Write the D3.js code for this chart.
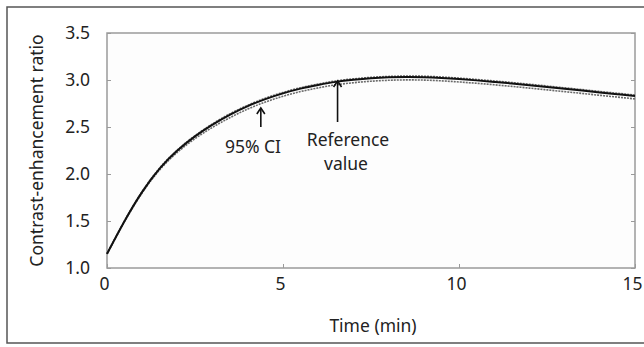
<!DOCTYPE html>
<html>
<head>
<meta charset="utf-8">
<script src="https://cdn.jsdelivr.net/npm/d3@7/dist/d3.min.js"></script>
<style>
  html, body { margin: 0; padding: 0; background: #fff; }
  svg { display: block; }
  text { font-family: "Noto Sans", "Open Sans", sans-serif; fill: #222; }
</style>
</head>
<body>
<svg id="chart" width="644" height="347"></svg>
<script>
// Time points (min)
const times = [0, 0.5, 1, 1.5, 2, 2.5, 3, 3.5, 4, 4.5, 5, 5.5, 6, 6.5, 7, 7.5, 8, 8.5, 9, 9.5, 10, 10.5, 11, 11.5, 12, 12.5, 13, 13.5, 14, 14.5, 15];
// Reference contrast-enhancement ratio curve
const referenceValues = [1.15, 1.50, 1.81, 2.06, 2.25, 2.40, 2.525, 2.632, 2.722, 2.797, 2.858, 2.908, 2.947, 2.98, 3.002, 3.018, 3.028, 3.032, 3.03, 3.022, 3.01, 2.996, 2.98, 2.963, 2.945, 2.926, 2.907, 2.888, 2.868, 2.849, 2.83];
// 95% confidence interval bounds
const ciUpper = [1.15, 1.503, 1.815, 2.066, 2.257, 2.408, 2.534, 2.642, 2.732, 2.807, 2.868, 2.918, 2.957, 2.99, 3.012, 3.028, 3.038, 3.042, 3.04, 3.032, 3.02, 3.006, 2.99, 2.973, 2.955, 2.936, 2.917, 2.898, 2.878, 2.859, 2.84];
const ciLower = [1.15, 1.496, 1.80, 2.046, 2.231, 2.376, 2.497, 2.601, 2.691, 2.766, 2.827, 2.877, 2.916, 2.949, 2.971, 2.987, 2.997, 3.001, 2.999, 2.991, 2.979, 2.965, 2.949, 2.932, 2.914, 2.895, 2.876, 2.857, 2.837, 2.818, 2.799];

const xTicks = [0, 5, 10, 15];
const yTicks = [1.0, 1.5, 2.0, 2.5, 3.0, 3.5];

const svg = d3.select("#chart");
const plotLeft = 107, plotRight = 635, plotTop = 33, plotBottom = 268;
const fontSize = 17.5;

const x = d3.scaleLinear().domain([0, 15]).range([plotLeft, plotRight]);
const y = d3.scaleLinear().domain([1.0, 3.5]).range([plotBottom, plotTop]);

// Outer frame
svg.append("rect")
  .attr("x", 7).attr("y", 7).attr("width", 660).attr("height", 336)
  .attr("fill", "none").attr("stroke", "#555").attr("stroke-width", 1.5);

// Plot area frame
svg.append("rect")
  .attr("x", plotLeft).attr("y", plotTop).attr("width", plotRight - plotLeft).attr("height", plotBottom - plotTop)
  .attr("fill", "#fdfdfd").attr("stroke", "#9a9a9a").attr("stroke-width", 1.5);

// Ticks pointing inward on left, right and bottom
const tickColor = "#9a9a9a";
const yAxisL = svg.append("g").attr("transform", `translate(${plotLeft},0)`)
  .call(d3.axisLeft(y).tickValues(yTicks).tickSizeInner(-4).tickSizeOuter(0).tickPadding(17).tickFormat(d3.format(".1f")));
const yAxisR = svg.append("g").attr("transform", `translate(${plotRight},0)`)
  .call(d3.axisRight(y).tickValues(yTicks).tickSizeInner(-4).tickSizeOuter(0).tickFormat(""));
const xAxis = svg.append("g").attr("transform", `translate(0,${plotBottom})`)
  .call(d3.axisBottom(x).tickValues(xTicks).tickSizeInner(-4).tickSizeOuter(0).tickPadding(10).tickFormat(d3.format("d")));

[yAxisL, yAxisR, xAxis].forEach(g => {
  g.select(".domain").remove();
  g.selectAll(".tick line").attr("stroke", tickColor).attr("stroke-width", 1);
  g.selectAll(".tick text").attr("font-size", fontSize).attr("fill", "#222")
    .style("font-family", "'Noto Sans', sans-serif");
});
xAxis.selectAll(".tick text").attr("dx", -3);

// Axis titles
svg.append("text")
  .attr("x", 373).attr("y", 332)
  .attr("text-anchor", "middle").attr("font-size", fontSize)
  .text("Time (min)");
svg.append("text")
  .attr("transform", `translate(43,${(plotTop + plotBottom) / 2}) rotate(-90)`)
  .attr("text-anchor", "middle").attr("font-size", fontSize)
  .text("Contrast-enhancement ratio");

// Curves
const line = d3.line().x((d, i) => x(times[i])).y(d => y(d)).curve(d3.curveNatural);

svg.append("path").datum(ciLower)
  .attr("d", line).attr("fill", "none")
  .attr("stroke", "#6a6a6a").attr("stroke-width", 1.6).attr("stroke-dasharray", "2,1");
svg.append("path").datum(ciUpper)
  .attr("d", line).attr("fill", "none")
  .attr("stroke", "#6a6a6a").attr("stroke-width", 1.6).attr("stroke-dasharray", "2,1");
svg.append("path").datum(referenceValues)
  .attr("d", line).attr("fill", "none")
  .attr("stroke", "#111").attr("stroke-width", 2);

// Annotation arrows
function arrow(xv, yTip, yTail) {
  const px = x(xv);
  const g = svg.append("g").attr("stroke", "#111").attr("stroke-width", 1.6).attr("fill", "none");
  g.append("line").attr("x1", px).attr("x2", px).attr("y1", yTail).attr("y2", yTip);
  g.append("path").attr("d", `M${px - 4},${yTip + 6} L${px},${yTip} L${px + 4},${yTip + 6}`);
}
arrow(4.37, 108, 127);
arrow(6.55, 81, 122);

svg.append("text").attr("x", 253).attr("y", 153)
  .attr("text-anchor", "middle").attr("font-size", fontSize).text("95% CI");
svg.append("text").attr("x", 348).attr("y", 146)
  .attr("text-anchor", "middle").attr("font-size", fontSize).text("Reference");
svg.append("text").attr("x", 346).attr("y", 170)
  .attr("text-anchor", "middle").attr("font-size", fontSize).text("value");
</script>
</body>
</html>
